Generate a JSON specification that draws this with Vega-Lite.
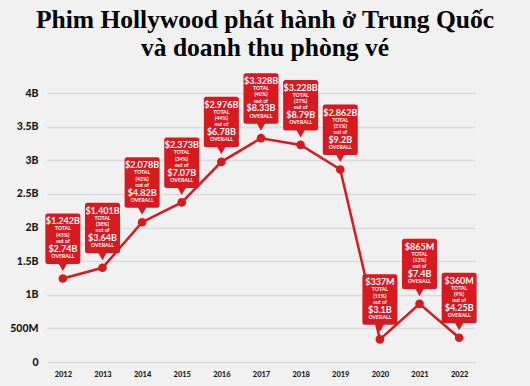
{
  "$schema": "https://vega.github.io/schema/vega-lite/v6.json",
  "width": 428,
  "height": 269,
  "autosize": {"type": "none"},
  "padding": {"left": 47, "top": 93, "right": 55, "bottom": 24},
  "background": "#f1f1f1",
  "title": {
    "text": ["Phim Hollywood phát hành ở Trung Quốc", "và doanh thu phòng vé"],
    "font": "Liberation Serif",
    "fontSize": 25.5,
    "fontWeight": "bold",
    "lineHeight": 28,
    "color": "#000000",
    "anchor": "middle",
    "offset": 12,
    "dx": 4
  },
  "data": {
    "values": [
      {"year": "2012", "box": 1.242, "label": "$1.242B", "pct": "(45%)", "overall": "$2.74B"},
      {"year": "2013", "box": 1.401, "label": "$1.401B", "pct": "(38%)", "overall": "$3.64B"},
      {"year": "2014", "box": 2.078, "label": "$2.078B", "pct": "(43%)", "overall": "$4.82B"},
      {"year": "2015", "box": 2.373, "label": "$2.373B", "pct": "(34%)", "overall": "$7.07B"},
      {"year": "2016", "box": 2.976, "label": "$2.976B", "pct": "(44%)", "overall": "$6.78B"},
      {"year": "2017", "box": 3.328, "label": "$3.328B", "pct": "(40%)", "overall": "$8.33B"},
      {"year": "2018", "box": 3.228, "label": "$3.228B", "pct": "(37%)", "overall": "$8.79B"},
      {"year": "2019", "box": 2.862, "label": "$2.862B", "pct": "(31%)", "overall": "$9.2B"},
      {"year": "2020", "box": 0.337, "label": "$337M", "pct": "(11%)", "overall": "$3.1B"},
      {"year": "2021", "box": 0.865, "label": "$865M", "pct": "(12%)", "overall": "$7.4B"},
      {"year": "2022", "box": 0.360, "label": "$360M", "pct": "(9%)", "overall": "$4.25B"}
    ]
  },
  "encoding": {
    "x": {
      "field": "year",
      "type": "ordinal",
      "scale": {"type": "point", "padding": 0.4},
      "axis": {
        "title": null,
        "labelAngle": 0,
        "domain": false,
        "ticks": false,
        "tickSize": 0,
        "labelPadding": 8,
        "labelFont": "Lato",
        "labelFontSize": 7.5,
        "labelFontWeight": 900,
        "labelColor": "#1a1a1a"
      }
    },
    "y": {
      "field": "box",
      "type": "quantitative",
      "scale": {"domain": [0, 4], "nice": false, "zero": true},
      "axis": {
        "title": null,
        "values": [0, 0.5, 1, 1.5, 2, 2.5, 3, 3.5, 4],
        "labelExpr": "datum.value == 0 ? '0' : datum.value < 1 ? '500M' : datum.value + 'B'",
        "domain": false,
        "ticks": false,
        "tickSize": 0,
        "labelPadding": 9,
        "labelFont": "Lato",
        "labelFontSize": 10.5,
        "labelFontWeight": 900,
        "labelColor": "#1a1a1a",
        "gridColor": "#dcdcdc",
        "gridWidth": 1.5
      }
    }
  },
  "layer": [
    {"mark": {"type": "line", "color": "#d71920", "strokeWidth": 2.5, "clip": false}},
    {"mark": {"type": "point", "filled": true, "color": "#d71920", "opacity": 1, "size": 75}},
    {
      "mark": {
        "type": "point",
        "filled": true,
        "color": "#d71920",
        "opacity": 1,
        "size": 10000,
        "strokeWidth": 0,
        "shape": "M-0.30,-1.3 L0.30,-1.3 Q0.35,-1.3 0.35,-1.25 L0.35,-0.34 Q0.35,-0.29 0.30,-0.29 L0.08,-0.29 L0,-0.15 L-0.08,-0.29 L-0.30,-0.29 Q-0.35,-0.29 -0.35,-0.34 L-0.35,-1.25 Q-0.35,-1.3 -0.30,-1.3 Z"
      }
    },
    {
      "mark": {"type": "text", "color": "#ffffff", "font": "Lato", "fontWeight": "bold", "fontSize": 9, "baseline": "middle", "dy": -57},
      "encoding": {"text": {"field": "label"}}
    },
    {
      "mark": {"type": "text", "color": "#ffffff", "font": "Lato", "fontWeight": "bold", "fontSize": 5.2, "baseline": "middle", "dy": -50},
      "encoding": {"text": {"value": "TOTAL"}}
    },
    {
      "mark": {"type": "text", "color": "#ffffff", "font": "Lato", "fontWeight": "bold", "fontSize": 5.2, "baseline": "middle", "dy": -43.7},
      "encoding": {"text": {"field": "pct"}}
    },
    {
      "mark": {"type": "text", "color": "#ffffff", "font": "Lato", "fontWeight": "bold", "fontSize": 5.2, "baseline": "middle", "dy": -37.5},
      "encoding": {"text": {"value": "out of"}}
    },
    {
      "mark": {"type": "text", "color": "#ffffff", "font": "Lato", "fontWeight": "bold", "fontSize": 9, "baseline": "middle", "dy": -29.7},
      "encoding": {"text": {"field": "overall"}}
    },
    {
      "mark": {"type": "text", "color": "#ffffff", "font": "Lato", "fontWeight": "bold", "fontSize": 5.2, "baseline": "middle", "dy": -22.5},
      "encoding": {"text": {"value": "OVERALL"}}
    }
  ],
  "config": {"view": {"stroke": null}}
}
